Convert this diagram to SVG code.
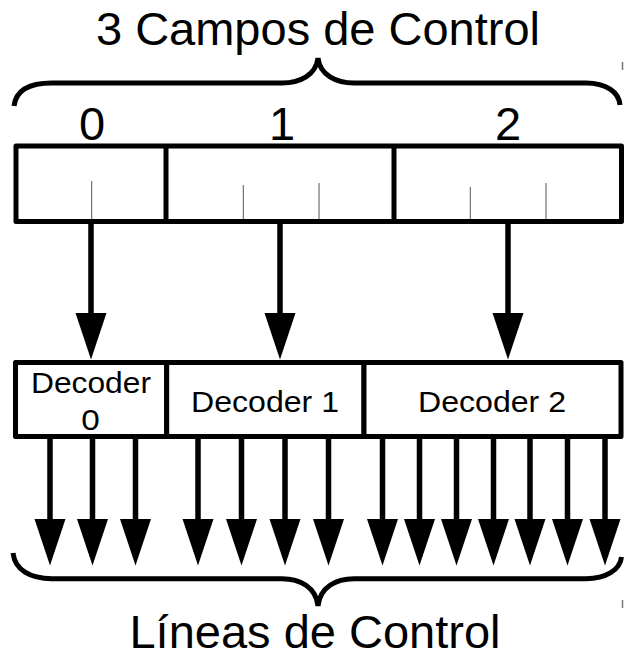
<svg xmlns="http://www.w3.org/2000/svg" width="624" height="657" viewBox="0 0 624 657">
  <style>
    .box { fill: #ffffff; stroke: #000000; stroke-width: 5; stroke-linejoin: round; }
    .div { stroke: #000000; stroke-width: 5; }
    .tick { stroke: #555555; stroke-width: 1; }
    .brace { fill: none; stroke: #000000; stroke-width: 5; stroke-linecap: butt; }
    .shaft { stroke: #000000; stroke-width: 5.5; }
    .head { fill: #000000; }
    .big { font-family: "Liberation Sans", Arial, sans-serif; font-size: 47px; fill: #000000; text-anchor: middle; }
    .lbl { font-family: "Liberation Sans", Arial, sans-serif; font-size: 29.5px; fill: #000000; text-anchor: middle; }
    .mark { stroke: #777777; stroke-width: 1.5; }
  </style>
  <defs>
    <polygon id="ah" class="head" points="-15.5,0 15.5,0 0,46.5"/>
  </defs>

  <rect width="624" height="657" fill="#ffffff"/>

  <!-- title and upper brace -->
  <g id="title">
    <text class="big" x="318" y="45">3 Campos de Control</text>
    <path class="brace" d="M14,106 C16,90 30,83 52,83 L282,83 C300,83 316,75 318,58 C320,75 336,83 354,83 L586,83 C606,83 619,92 620,105"/>
    <line class="mark" x1="622.5" y1="62" x2="622.5" y2="70"/>
  </g>

  <!-- control word with three fields -->
  <g id="register">
    <rect class="box" x="16" y="146" width="605.5" height="75.5"/>
    <line class="div" x1="166" y1="146" x2="166" y2="221.5"/>
    <line class="div" x1="394" y1="146" x2="394" y2="221.5"/>
    <line class="tick" x1="91.7" y1="181" x2="91.7" y2="219"/>
    <line class="tick" x1="243.3" y1="185" x2="243.3" y2="219"/>
    <line class="tick" x1="319" y1="183" x2="319" y2="219"/>
    <line class="tick" x1="470.3" y1="187" x2="470.3" y2="219"/>
    <line class="tick" x1="546" y1="183" x2="546" y2="219"/>
  </g>
  <g id="field-labels">
    <text class="big" x="92" y="140">0</text>
    <text class="big" x="282" y="140">1</text>
    <text class="big" x="508" y="140">2</text>
  </g>

  <!-- decoders -->
  <g id="decoder0">
    <rect class="box" x="15.5" y="362.5" width="151.2" height="74"/>
    <text class="lbl" x="91" y="393" textLength="120" lengthAdjust="spacingAndGlyphs">Decoder</text>
    <text class="lbl" x="90.5" y="429.5" textLength="18.5" lengthAdjust="spacingAndGlyphs">0</text>
  </g>
  <g id="decoder1">
    <rect class="box" x="166.7" y="362.5" width="197.3" height="74"/>
    <text class="lbl" x="265" y="412" textLength="148" lengthAdjust="spacingAndGlyphs">Decoder 1</text>
  </g>
  <g id="decoder2">
    <rect class="box" x="364" y="362.5" width="257" height="74"/>
    <text class="lbl" x="492" y="412" textLength="148" lengthAdjust="spacingAndGlyphs">Decoder 2</text>
  </g>

  <!-- connectors -->
  <g id="connectors">
    <!-- field to decoder -->
    <line class="shaft" x1="91" y1="222" x2="91" y2="314"/>
    <use href="#ah" x="91" y="313"/>
    <line class="shaft" x1="280" y1="222" x2="280" y2="314"/>
    <use href="#ah" x="280" y="313"/>
    <line class="shaft" x1="508" y1="222" x2="508" y2="314"/>
    <use href="#ah" x="508" y="313"/>

    <!-- decoder outputs -->
    <line class="shaft" x1="50" y1="437" x2="50" y2="520"/>
    <use href="#ah" x="50" y="519"/>
    <line class="shaft" x1="92.5" y1="437" x2="92.5" y2="520"/>
    <use href="#ah" x="92.5" y="519"/>
    <line class="shaft" x1="135.5" y1="437" x2="135.5" y2="520"/>
    <use href="#ah" x="135.5" y="519"/>

    <line class="shaft" x1="198" y1="437" x2="198" y2="520"/>
    <use href="#ah" x="198" y="519"/>
    <line class="shaft" x1="241.5" y1="437" x2="241.5" y2="520"/>
    <use href="#ah" x="241.5" y="519"/>
    <line class="shaft" x1="285" y1="437" x2="285" y2="520"/>
    <use href="#ah" x="285" y="519"/>
    <line class="shaft" x1="328.5" y1="437" x2="328.5" y2="520"/>
    <use href="#ah" x="328.5" y="519"/>

    <line class="shaft" x1="382.5" y1="437" x2="382.5" y2="520"/>
    <use href="#ah" x="382.5" y="519"/>
    <line class="shaft" x1="419.5" y1="437" x2="419.5" y2="520"/>
    <use href="#ah" x="419.5" y="519"/>
    <line class="shaft" x1="456.5" y1="437" x2="456.5" y2="520"/>
    <use href="#ah" x="456.5" y="519"/>
    <line class="shaft" x1="493.5" y1="437" x2="493.5" y2="520"/>
    <use href="#ah" x="493.5" y="519"/>
    <line class="shaft" x1="530" y1="437" x2="530" y2="520"/>
    <use href="#ah" x="530" y="519"/>
    <line class="shaft" x1="567.5" y1="437" x2="567.5" y2="520"/>
    <use href="#ah" x="567.5" y="519"/>
    <line class="shaft" x1="605" y1="437" x2="605" y2="520"/>
    <use href="#ah" x="605" y="519"/>
  </g>

  <!-- lower brace and caption -->
  <g id="caption">
    <path class="brace" d="M13,553 C15,570 30,578.7 52,578.7 L282,578.7 C300,578.7 316,587 318,606 C320,587 336,578.7 354,578.7 L586,578.7 C606,578.7 620,570 621.5,557"/>
    <line class="mark" x1="622.5" y1="600" x2="622.5" y2="608"/>
    <text class="big" x="315" y="648">Líneas de Control</text>
  </g>
</svg>
